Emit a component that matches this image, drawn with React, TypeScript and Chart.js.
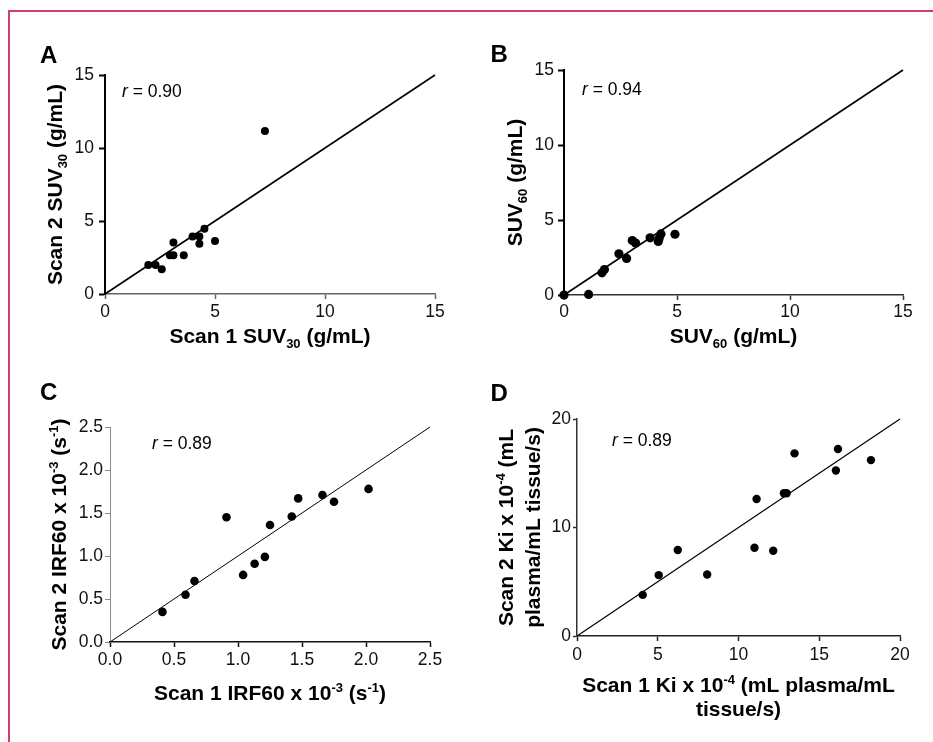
import React, { useEffect, useRef } from "react";
import { Chart, registerables } from "chart.js";
Chart.register(...registerables);

const FONT = "'Liberation Sans', Arial, Helvetica, sans-serif";

// ---------- Panel A: SUV30 ----------
const aScan1 = [7.27, 1.97, 2.3, 2.58, 2.95, 3.11, 3.11, 3.58, 3.98, 4.29, 4.29, 4.52, 5.0];
const aScan2 = [11.16, 1.99, 1.99, 1.69, 2.65, 2.65, 3.52, 2.65, 3.93, 3.93, 3.45, 4.47, 3.63];
const aLine = [0, 15];
const aTicks = [0, 5, 10, 15];
const aTickLabels = ["0", "5", "10", "15"];
const aR = "0.90";

// ---------- Panel B: SUV60 ----------
const bScan1 = [0, 1.09, 1.68, 1.79, 2.43, 2.77, 3.02, 3.17, 3.81, 4.17, 4.21, 4.29, 4.91];
const bScan2 = [0, 0.04, 1.48, 1.7, 2.75, 2.44, 3.63, 3.46, 3.81, 3.57, 3.77, 4.07, 4.05];
const bLine = [0, 15];
const bTicks = [0, 5, 10, 15];
const bTickLabels = ["0", "5", "10", "15"];
const bR = "0.94";

// ---------- Panel C: IRF60 ----------
const cScan1 = [0.41, 0.59, 0.66, 0.91, 1.04, 1.13, 1.21, 1.25, 1.42, 1.47, 1.66, 1.75, 2.02];
const cScan2 = [0.35, 0.55, 0.71, 1.45, 0.78, 0.91, 0.99, 1.36, 1.46, 1.67, 1.71, 1.63, 1.78];
const cLine = [0, 2.5];
const cTicks = [0, 0.5, 1.0, 1.5, 2.0, 2.5];
const cTickLabels = ["0.0", "0.5", "1.0", "1.5", "2.0", "2.5"];
const cR = "0.89";

// ---------- Panel D: Ki ----------
const dScan1 = [4.07, 5.06, 6.24, 8.06, 10.99, 11.12, 12.15, 12.81, 12.98, 13.47, 16.03, 16.16, 18.2];
const dScan2 = [3.79, 5.61, 7.92, 5.67, 8.14, 12.63, 7.86, 13.16, 13.16, 16.83, 15.25, 17.23, 16.21];
const dLine = [0, 20];
const dXTicks = [0, 5, 10, 15, 20];
const dXTickLabels = ["0", "5", "10", "15", "20"];
const dYTicks = [0, 10, 20];
const dYTickLabels = ["0", "10", "20"];
const dR = "0.89";

// Axis titles (_{..} = subscript, ^{..} = superscript)
const aXTitle = ["Scan 1 SUV_{30} (g/mL)"];
const aYTitle = ["Scan 2 SUV_{30} (g/mL)"];
const bXTitle = ["SUV_{60} (g/mL)"];
const bYTitle = ["SUV_{60} (g/mL)"];
const cXTitle = ["Scan 1 IRF60 x 10^{-3} (s^{-1})"];
const cYTitle = ["Scan 2 IRF60 x 10^{-3} (s^{-1})"];
const dXTitle = ["Scan 1 Ki x 10^{-4} (mL plasma/mL", "tissue/s)"];
const dYTitle = ["Scan 2 Ki x 10^{-4} (mL", "plasma/mL tissue/s)"];

type Border = { color: string; width: number };
type TickSty = { len: number; pad: number };
type PanelCfg = {
  box: { x: number; y: number; w: number; h: number };
  area: { l: number; t: number; r: number; b: number };
  xs: number[];
  ys: number[];
  line: number[];
  xTicks: number[];
  yTicks: number[];
  xLabels: string[];
  yLabels: string[];
  xTitle: string[];
  yTitle: string[];
  xTitleBase: number[];
  yTitleBase: number[];
  radius: number;
  lineWidth: number;
  xBorder: Border;
  yBorder: Border;
  xTick: TickSty;
  yTick: TickSty;
};

const panels: PanelCfg[] = [
  {
    box: { x: 15, y: 60, w: 455, h: 305 },
    area: { l: 105, t: 75, r: 435, b: 294 },
    xs: aScan1, ys: aScan2, line: aLine,
    xTicks: aTicks, yTicks: aTicks, xLabels: aTickLabels, yLabels: aTickLabels,
    xTitle: aXTitle, yTitle: aYTitle,
    xTitleBase: [343.3], yTitleBase: [61.7],
    radius: 4, lineWidth: 1.6,
    xBorder: { color: "#666", width: 1.5 }, yBorder: { color: "#000", width: 2 },
    xTick: { len: 5, pad: 3 }, yTick: { len: 6, pad: 5 },
  },
  {
    box: { x: 475, y: 55, w: 458, h: 310 },
    area: { l: 564, t: 70, r: 903, b: 295 },
    xs: bScan1, ys: bScan2, line: bLine,
    xTicks: bTicks, yTicks: bTicks, xLabels: bTickLabels, yLabels: bTickLabels,
    xTitle: bXTitle, yTitle: bYTitle,
    xTitleBase: [343], yTitleBase: [522.3],
    radius: 4.6, lineWidth: 1.6,
    xBorder: { color: "#333", width: 1.5 }, yBorder: { color: "#000", width: 2 },
    xTick: { len: 5, pad: 2 }, yTick: { len: 6, pad: 4 },
  },
  {
    box: { x: 15, y: 405, w: 455, h: 320 },
    area: { l: 110, t: 427, r: 430, b: 642 },
    xs: cScan1, ys: cScan2, line: cLine,
    xTicks: cTicks, yTicks: cTicks, xLabels: cTickLabels, yLabels: cTickLabels,
    xTitle: cXTitle, yTitle: cYTitle,
    xTitleBase: [700], yTitleBase: [65.7],
    radius: 4.3, lineWidth: 1,
    xBorder: { color: "#111", width: 1.5 }, yBorder: { color: "#888", width: 1 },
    xTick: { len: 5, pad: 3 }, yTick: { len: 5, pad: 2 },
  },
  {
    box: { x: 475, y: 400, w: 458, h: 335 },
    area: { l: 577, t: 419, r: 900, b: 636 },
    xs: dScan1, ys: dScan2, line: dLine,
    xTicks: dXTicks, yTicks: dYTicks, xLabels: dXTickLabels, yLabels: dYTickLabels,
    xTitle: dXTitle, yTitle: dYTitle,
    xTitleBase: [692.3, 715.7], yTitleBase: [513, 540.3],
    radius: 4.2, lineWidth: 1.2,
    xBorder: { color: "#222", width: 1.5 }, yBorder: { color: "#333", width: 1.5 },
    xTick: { len: 5, pad: 4 }, yTick: { len: 4, pad: 2 },
  },
];

const TITLE_SIZE = 21;
const TICK_SIZE = 17.5;

type Seg = { t: string; k: "n" | "sub" | "sup" };
function parseRich(s: string): Seg[] {
  const out: Seg[] = [];
  const re = /_\{([^}]*)\}|\^\{([^}]*)\}/g;
  let last = 0;
  let m: RegExpExecArray | null;
  while ((m = re.exec(s))) {
    if (m.index > last) out.push({ t: s.slice(last, m.index), k: "n" });
    if (m[1] !== undefined) out.push({ t: m[1], k: "sub" });
    else out.push({ t: m[2], k: "sup" });
    last = re.lastIndex;
  }
  if (last < s.length) out.push({ t: s.slice(last), k: "n" });
  return out;
}

function drawRich(ctx: CanvasRenderingContext2D, s: string, cx: number, baseline: number, size: number) {
  const segs = parseRich(s);
  const fonts = segs.map((sg) => `bold ${sg.k === "n" ? size : Math.round(size * 0.64)}px ${FONT}`);
  let total = 0;
  const ws = segs.map((sg, i) => {
    ctx.font = fonts[i];
    const w = ctx.measureText(sg.t).width;
    total += w;
    return w;
  });
  let x = cx - total / 2;
  ctx.textAlign = "left";
  ctx.textBaseline = "alphabetic";
  ctx.fillStyle = "#000";
  segs.forEach((sg, i) => {
    ctx.font = fonts[i];
    const dy = sg.k === "sub" ? size * 0.24 : sg.k === "sup" ? -size * 0.38 : 0;
    ctx.fillText(sg.t, x, baseline + dy);
    x += ws[i];
  });
}

function Panel({ cfg }: { cfg: PanelCfg }) {
  const ref = useRef<HTMLCanvasElement | null>(null);
  useEffect(() => {
    const canvas = ref.current;
    if (!canvas) return;
    const { box, area } = cfg;
    const padTop = area.t - box.y;
    const padRight = box.x + box.w - area.r;
    const yw = area.l - box.x;
    const xh = box.y + box.h - area.b;

    const titlePlugin = {
      id: "richTitles",
      afterDraw(chart: any) {
        const ctx = chart.ctx as CanvasRenderingContext2D;
        const ca = chart.chartArea;
        ctx.save();
        const cx = (ca.left + ca.right) / 2;
        cfg.xTitle.forEach((line, i) => {
          drawRich(ctx, line, cx, cfg.xTitleBase[i] - box.y, TITLE_SIZE);
        });
        const cy = (ca.top + ca.bottom) / 2;
        cfg.yTitle.forEach((line, i) => {
          ctx.save();
          ctx.translate(cfg.yTitleBase[i] - box.x, cy);
          ctx.rotate(-Math.PI / 2);
          drawRich(ctx, line, 0, 0, TITLE_SIZE);
          ctx.restore();
        });
        ctx.restore();
      },
    };

    const chart = new Chart(canvas, {
      type: "scatter",
      data: {
        datasets: [
          {
            type: "scatter",
            data: cfg.xs.map((x, i) => ({ x, y: cfg.ys[i] })),
            backgroundColor: "#000",
            borderColor: "#000",
            borderWidth: 0,
            pointRadius: cfg.radius,
            pointHoverRadius: cfg.radius,
            clip: false,
            order: 0,
          } as any,
          {
            type: "line",
            data: [
              { x: cfg.line[0], y: cfg.line[0] },
              { x: cfg.line[1], y: cfg.line[1] },
            ],
            borderColor: "#000",
            borderWidth: cfg.lineWidth,
            pointRadius: 0,
            fill: false,
            showLine: true,
            tension: 0,
            clip: false,
            order: 1,
          } as any,
        ],
      },
      options: {
        animation: false,
        responsive: false,
        devicePixelRatio: 1,
        events: [],
        layout: { padding: { top: padTop, right: padRight, left: 0, bottom: 0 } },
        plugins: { legend: { display: false }, tooltip: { enabled: false } },
        scales: {
          x: {
            type: "linear",
            min: cfg.xTicks[0],
            max: cfg.xTicks[cfg.xTicks.length - 1],
            afterBuildTicks: (s: any) => {
              s.ticks = cfg.xTicks.map((v) => ({ value: v }));
            },
            afterFit: (s: any) => {
              s.height = xh;
              s.paddingLeft = 0;
              s.paddingRight = 0;
            },
            ticks: {
              callback: (_v: any, i: number) => cfg.xLabels[i],
              font: { family: FONT, size: TICK_SIZE },
              color: "#111",
              padding: cfg.xTick.pad,
              maxRotation: 0,
              autoSkip: false,
            },
            grid: {
              display: true,
              drawOnChartArea: false,
              drawTicks: true,
              tickLength: cfg.xTick.len,
              color: cfg.xBorder.color,
              tickColor: cfg.xBorder.color,
              tickWidth: cfg.xBorder.width,
            },
            border: { display: true, color: cfg.xBorder.color, width: cfg.xBorder.width },
            title: { display: false },
          } as any,
          y: {
            type: "linear",
            min: cfg.yTicks[0],
            max: cfg.yTicks[cfg.yTicks.length - 1],
            afterBuildTicks: (s: any) => {
              s.ticks = cfg.yTicks.map((v) => ({ value: v }));
            },
            afterFit: (s: any) => {
              s.width = yw;
              s.paddingTop = 0;
              s.paddingBottom = 0;
            },
            ticks: {
              callback: (_v: any, i: number) => cfg.yLabels[i],
              font: { family: FONT, size: TICK_SIZE },
              color: "#111",
              padding: cfg.yTick.pad,
              autoSkip: false,
            },
            grid: {
              display: true,
              drawOnChartArea: false,
              drawTicks: true,
              tickLength: cfg.yTick.len,
              color: cfg.yBorder.color,
              tickColor: cfg.yBorder.color,
              tickWidth: cfg.yBorder.width,
            },
            border: { display: true, color: cfg.yBorder.color, width: cfg.yBorder.width },
            title: { display: false },
          } as any,
        },
      },
      plugins: [titlePlugin],
    });
    return () => chart.destroy();
  }, [cfg]);

  return (
    <canvas
      ref={ref}
      width={cfg.box.w}
      height={cfg.box.h}
      style={{ position: "absolute", left: cfg.box.x, top: cfg.box.y, width: cfg.box.w, height: cfg.box.h }}
    />
  );
}

const letters = [
  { t: "A", x: 40, y: 42.7 },
  { t: "B", x: 490.5, y: 41.7 },
  { t: "C", x: 40, y: 379.7 },
  { t: "D", x: 490.5, y: 380.7 },
];

const rLabels = [
  { v: aR, x: 122, y: 83.2 },
  { v: bR, x: 582, y: 81.2 },
  { v: cR, x: 152, y: 435.2 },
  { v: dR, x: 612, y: 432.2 },
];

export default function App() {
  return (
    <div style={{ position: "absolute", left: 0, top: 0, width: 933, height: 742, background: "#fff", overflow: "hidden" }}>
      <div
        style={{
          position: "absolute",
          left: 8,
          top: 10,
          width: 940,
          height: 760,
          borderLeft: "2px solid #d33d66",
          borderTop: "2px solid #d33d66",
          boxSizing: "border-box",
        }}
      />
      {panels.map((p, i) => (
        <Panel key={i} cfg={p} />
      ))}
      {letters.map((l) => (
        <div
          key={l.t}
          style={{
            position: "absolute",
            left: l.x,
            top: l.y,
            fontFamily: FONT,
            fontWeight: "bold",
            fontSize: 24,
            lineHeight: "24px",
            color: "#000",
            whiteSpace: "nowrap",
          }}
        >
          {l.t}
        </div>
      ))}
      {rLabels.map((r, i) => (
        <div
          key={i}
          style={{
            position: "absolute",
            left: r.x,
            top: r.y,
            fontFamily: FONT,
            fontSize: 17.5,
            lineHeight: "17.5px",
            color: "#000",
            whiteSpace: "pre",
          }}
        >
          <i>r</i>
          {" = " + r.v}
        </div>
      ))}
    </div>
  );
}
